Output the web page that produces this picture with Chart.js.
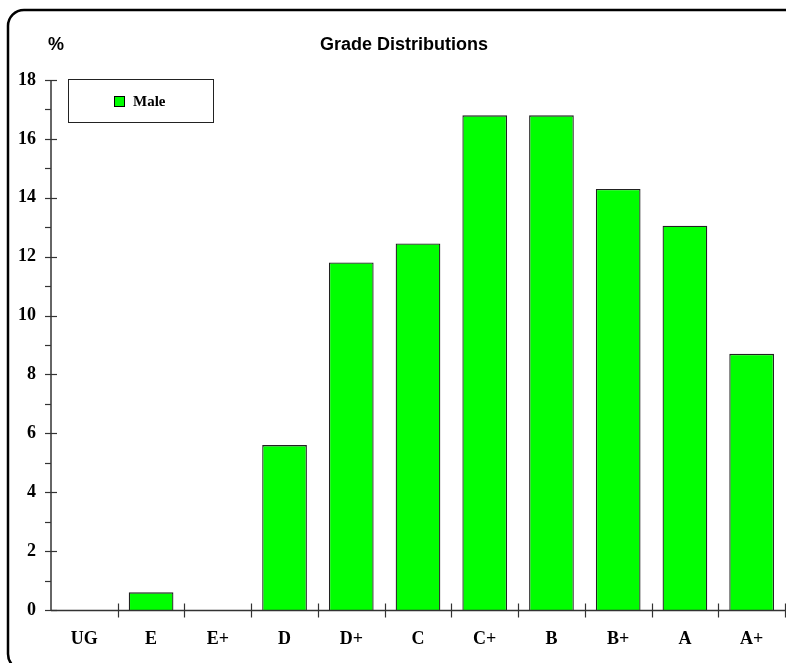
<!DOCTYPE html>
<html>
<head>
<meta charset="utf-8">
<script src="https://cdn.jsdelivr.net/npm/chart.js@4/dist/chart.umd.min.js"></script>
<style>
  body { margin: 0; background: #fff; }
  canvas { display: block; }
</style>
</head>
<body>
<canvas id="gradeCanvas" width="786" height="663"></canvas>
<script>
const grades = ["UG", "E", "E+", "D", "D+", "C", "C+", "B", "B+", "A", "A+"];
const maleValues = [0, 0.6, 0, 5.6, 11.8, 12.45, 16.8, 16.8, 14.3, 13.05, 8.7];
const yTicks = [0, 2, 4, 6, 8, 10, 12, 14, 16, 18];
const yMinorTicks = [1, 3, 5, 7, 9, 11, 13, 15, 17];
const seriesName = "Male";
const chartTitle = "Grade Distributions";
const axisUnit = "%";

const AXIS_COLOR = "#333";
const SERIF = "'Liberation Serif', 'Times New Roman', serif";
const SANS = "'Liberation Sans', Arial, sans-serif";

const decorations = {
  id: "decorations",
  afterDraw(chart) {
    const ctx = chart.ctx;
    const x = chart.scales.x;
    const y = chart.scales.y;
    ctx.save();

    // rounded frame, open on the right and bottom
    ctx.strokeStyle = "#000";
    ctx.lineWidth = 2.5;
    ctx.beginPath();
    ctx.roundRect(8, 10, 820, 660, 16);
    ctx.stroke();

    // axis lines
    ctx.strokeStyle = AXIS_COLOR;
    ctx.lineWidth = 1.5;
    const ax = 51;
    const ay = Math.round(y.getPixelForValue(0)) + 0.5;
    const top = Math.round(y.getPixelForValue(18));
    ctx.beginPath();
    ctx.moveTo(ax, top);
    ctx.lineTo(ax, ay);
    ctx.stroke();
    ctx.beginPath();
    ctx.moveTo(ax, ay);
    ctx.lineTo(x.right, ay);
    ctx.stroke();

    // y tick marks
    ctx.lineWidth = 1.2;
    yTicks.forEach(v => {
      const py = Math.round(y.getPixelForValue(v)) + 0.5;
      ctx.beginPath();
      ctx.moveTo(ax - 6, py);
      ctx.lineTo(ax + 6, py);
      ctx.stroke();
    });
    yMinorTicks.forEach(v => {
      const py = Math.round(y.getPixelForValue(v)) + 0.5;
      ctx.beginPath();
      ctx.moveTo(ax - 6, py);
      ctx.lineTo(ax, py);
      ctx.stroke();
    });

    // x tick marks at category boundaries
    const catW = (x.right - x.left) / grades.length;
    for (let i = 1; i <= grades.length; i++) {
      const px = Math.round(x.getPixelForValue(i - 1) + catW / 2) + 0.5;
      ctx.beginPath();
      ctx.moveTo(px, ay - 7);
      ctx.lineTo(px, ay + 7);
      ctx.stroke();
    }

    // title and unit
    ctx.fillStyle = "#000";
    ctx.font = "bold 18px " + SANS;
    ctx.textBaseline = "alphabetic";
    ctx.textAlign = "center";
    ctx.fillText(chartTitle, 404, 50);
    ctx.textAlign = "left";
    ctx.fillText(axisUnit, 48, 50);

    // legend box
    ctx.fillStyle = "#fff";
    ctx.fillRect(68.5, 79.5, 145, 43);
    ctx.strokeStyle = "#222";
    ctx.lineWidth = 1;
    ctx.strokeRect(68.5, 79.5, 145, 43);
    ctx.fillStyle = "#00ff00";
    ctx.fillRect(114.5, 96.5, 10, 10);
    ctx.strokeStyle = "#000";
    ctx.strokeRect(114.5, 96.5, 10, 10);
    ctx.fillStyle = "#000";
    ctx.font = "bold 15px " + SERIF;
    ctx.fillText(seriesName, 133, 106);

    ctx.restore();
  }
};

new Chart(document.getElementById("gradeCanvas"), {
  type: "bar",
  data: {
    labels: grades,
    datasets: [{
      label: seriesName,
      data: maleValues,
      backgroundColor: "#00ff00",
      borderColor: "#222",
      borderWidth: 1.3,
      barPercentage: 0.67,
      categoryPercentage: 1.0,
    }],
  },
  options: {
    responsive: false,
    animation: false,
    events: [],
    layout: { padding: { top: 80, right: 1, left: 0, bottom: 0 } },
    plugins: {
      legend: { display: false },
      title: { display: false },
      tooltip: { enabled: false },
    },
    scales: {
      x: {
        offset: true,
        grid: { display: false, drawTicks: false },
        border: { display: false },
        ticks: {
          padding: 19,
          color: "#000",
          font: { family: SERIF, size: 18, weight: "bold" },
          maxRotation: 0,
        },
        afterFit: (s) => { s.height = 53; },
      },
      y: {
        min: 0,
        max: 18,
        grid: { display: false, drawTicks: false },
        border: { display: false },
        ticks: {
          stepSize: 2,
          padding: 15,
          color: "#000",
          font: { family: SERIF, size: 18, weight: "bold" },
        },
        afterFit: (s) => { s.width = 51; },
      },
    },
  },
  plugins: [decorations],
});
</script>
</body>
</html>
